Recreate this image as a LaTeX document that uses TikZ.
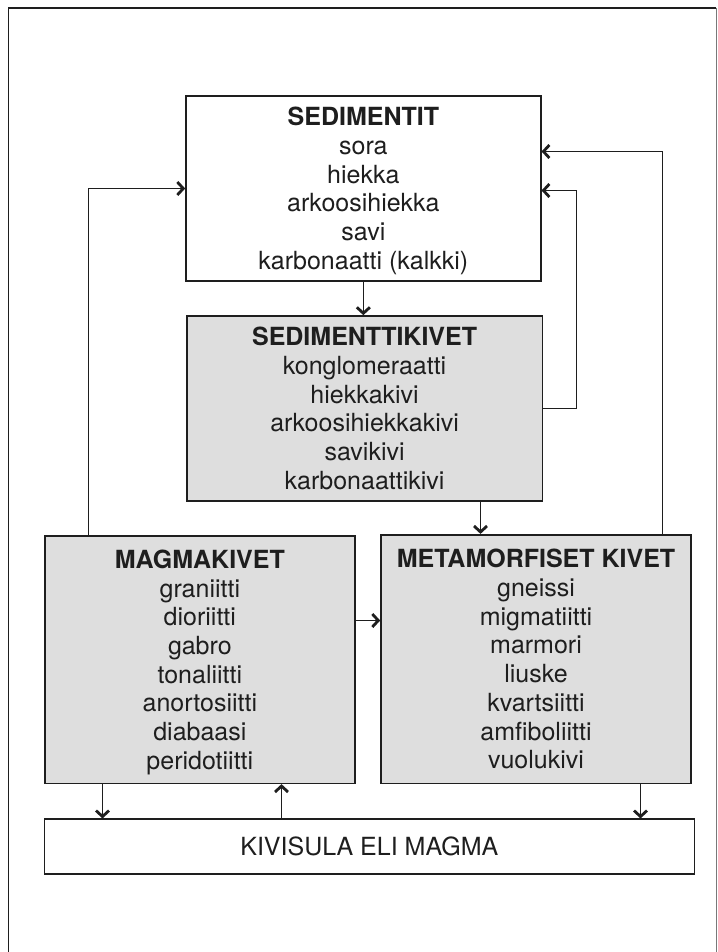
\documentclass[tikz,border=0pt]{standalone}
\usepackage{fontspec}
\setmainfont{TeX Gyre Heros}
\usetikzlibrary{arrows.meta}
\definecolor{ink}{RGB}{30,30,30}
\definecolor{boxgray}{RGB}{222,222,222}
\begin{document}
\begin{tikzpicture}[x=1pt,y=-1pt,
  rockbox/.style={draw=ink, line width=1.6pt, rectangle, inner sep=0pt,
    align=center, text=ink, text depth=0pt,
    font=\fontsize{25}{28.7}\selectfont},
  shaded/.style={rockbox, fill=boxgray},
  plain/.style={rockbox, fill=white},
  link/.style={draw=ink, line width=1.5pt,
    -{Straight Barb[length=6pt,width=13pt,line width=2.8pt]}},
  frameline/.style={draw=ink, line width=1.5pt}]
\useasboundingbox (0,0) rectangle (717,952);
% outer frame
\coordinate (ftl) at (8.5,8);
\coordinate (ftr) at (716,8);
\coordinate (fbl) at (8.5,952);
\coordinate (fbr) at (716,952);
\draw[frameline] (fbl) -- (ftl) -- (ftr);
\draw[draw=ink!60, line width=0.8pt] (ftr) -- (fbr);
% boxes
\node[plain, minimum width=354.7pt, minimum height=184.7pt] (sed) at (363.35,188.35)
  {\textbf{SEDIMENTIT}\\sora\\hiekka\\arkoosihiekka\\savi\\karbonaatti (kalkki)};
\node[shaded, minimum width=355.4pt, minimum height=184.7pt] (skivi) at (364.6,408.35)
  {\textbf{SEDIMENTTIKIVET}\\konglomeraatti\\hiekkakivi\\arkoosihiekkakivi\\savikivi\\karbonaattikivi};
\node[shaded, minimum width=310.3pt, minimum height=247.6pt] (magma) at (199.85,659.5)
  {\textbf{MAGMAKIVET}\\graniitti\\dioriitti\\gabro\\tonaliitti\\anortosiitti\\diabaasi\\peridotiitti};
\node[shaded, minimum width=310pt, minimum height=248.6pt] (meta) at (536,659)
  {\textbf{METAMORFISET KIVET}\\gneissi\\migmatiitti\\marmori\\liuske\\kvartsiitti\\amfiboliitti\\vuolukivi};
\node[plain, minimum width=650pt, minimum height=54.7pt] (kiv) at (369.3,846.6)
  {KIVISULA ELI MAGMA};
% routing points
\coordinate (cx1) at (480.5,0);
\coordinate (cy1) at (0,620.5);
\coordinate (l1) at (88.5,188.5);
\coordinate (r1) at (662.5,151.5);
\coordinate (r2a) at (576.5,408.5);
\coordinate (r2b) at (576.5,190.5);
\coordinate (d1) at (102.5,0);
\coordinate (u1) at (281.5,0);
\coordinate (d2) at (640.5,0);
% connectors
\draw[link] (sed.south) -- (sed.south |- skivi.north);
\draw[link] (skivi.south -| cx1) -- (meta.north -| cx1);
\draw[link] (magma.east |- cy1) -- (meta.west |- cy1);
\draw[link] (magma.north -| l1) |- (sed.west |- l1);
\draw[link] (meta.north -| r1) |- (sed.east |- r1);
\draw[link] (skivi.east |- r2a) -- (r2a) -- (r2b) -- (sed.east |- r2b);
\draw[link] (magma.south -| d1) -- (kiv.north -| d1);
\draw[link] (kiv.north -| u1) -- (magma.south -| u1);
\draw[link] (meta.south -| d2) -- (kiv.north -| d2);
\end{tikzpicture}
\end{document}
